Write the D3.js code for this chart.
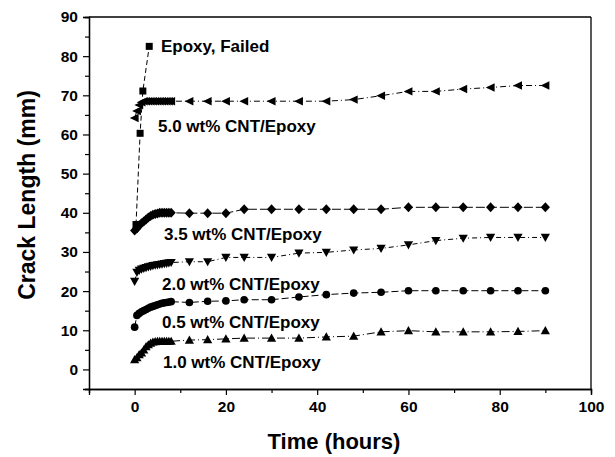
<!DOCTYPE html>
<html><head><meta charset="utf-8">
<script src="https://cdn.jsdelivr.net/npm/d3@7"></script>
<style>
html,body{margin:0;padding:0;background:#fff;}
svg{display:block;font-family:"Liberation Sans",Arial,sans-serif;}
</style></head>
<body>
<svg id="chart" width="615" height="457"></svg>
<script>
// ---- data ----
const timeHours = [0,0.5,1,1.5,2,2.5,3,3.5,4,4.5,5,5.5,6,6.5,7,7.5,8,
                   12,16,20,24,30,36,42,48,54,60,66,72,78,84,90];
const cnt50 = [64.2,66,67.5,68.2,68.5,68.5,68.5,68.5,68.5,68.5,68.5,68.5,68.5,68.5,68.5,68.5,68.5,
               68.5,68.5,68.5,68.5,68.5,68.5,68.5,68.9,69.9,71,71,71.6,72,72.5,72.5];
const cnt35 = [35.5,36,36.8,37.3,37.8,38.3,38.8,39.2,39.5,39.7,39.8,40,40,40,40,40,40,
               39.9,39.9,39.9,40.9,40.9,40.9,40.9,40.9,40.9,41.4,41.4,41.4,41.4,41.4,41.4];
const cnt20 = [22.5,24.8,25.3,25.6,25.8,26,26.2,26.3,26.5,26.6,26.7,26.8,26.9,27,27.1,27.2,27.3,
               27.5,27.5,28.6,28.6,28.6,29.7,29.9,30.5,30.9,31.8,32.9,33.5,33.7,33.7,33.7];
const cnt05 = [10.8,13.8,14.3,14.7,15,15.3,15.6,15.9,16.1,16.3,16.5,16.7,16.9,17,17.1,17.2,17.3,
               17.1,17.4,17.5,17.8,17.8,18.5,19.1,19.5,19.7,20.1,20.1,20.1,20.1,20.1,20.1];
const cnt10 = [2.5,3,3.8,4.2,5,5.8,6.3,6.7,7,7.1,7.2,7.2,7.2,7.2,7.2,7.2,7.2,
               7.5,7.6,7.8,8,8,8,8.3,8.5,9.6,9.9,9.6,9.6,9.6,9.7,9.9];
const epoxyTime = [0.3,1.2,1.8,3.2];
const epoxyVals = [37,60.3,71.1,82.5];
const seriesNames = ["Epoxy, Failed","5.0 wt% CNT/Epoxy","3.5 wt% CNT/Epoxy","2.0 wt% CNT/Epoxy","0.5 wt% CNT/Epoxy","1.0 wt% CNT/Epoxy"];
const xTickLabels = [0,20,40,60,80,100];
const yTickLabels = [0,10,20,30,40,50,60,70,80,90];
const xTitle = "Time (hours)";
const yTitle = "Crack Length (mm)";

// ---- layout ----
const L = 89, R = 591, T = 17, B = 389;
const svg = d3.select("#chart");
const x = d3.scaleLinear().domain([-10,100]).range([L,R]);
const y = d3.scaleLinear().domain([-5,90]).range([B,T]);

const shapes = {
  square: "M-3.5,-3.5H3.5V3.5H-3.5Z",
  left: "M-4.8,0L4,-4.2L4,4.2Z",
  diamond: "M0,-5L4.6,0L0,5L-4.6,0Z",
  down: "M-4.6,-3.6L4.6,-3.6L0,4.6Z",
  up: "M-4.6,3.6L4.6,3.6L0,-4.6Z",
  circle: d3.symbol(d3.symbolCircle, 46)()
};

const series = [
  {name: seriesNames[0], t: epoxyTime, v: epoxyVals, shape: "square", dash: "5,3"},
  {name: seriesNames[1], t: timeHours, v: cnt50, shape: "left", dash: "6,3,1,3"},
  {name: seriesNames[2], t: timeHours, v: cnt35, shape: "diamond", dash: "9,3"},
  {name: seriesNames[3], t: timeHours, v: cnt20, shape: "down", dash: "5,3,1,3"},
  {name: seriesNames[4], t: timeHours, v: cnt05, shape: "circle", dash: "7,3"},
  {name: seriesNames[5], t: timeHours, v: cnt10, shape: "up", dash: "8,3,1,3"}
];

// frame (top and right)
svg.append("line").attr("x1",L).attr("x2",R).attr("y1",T).attr("y2",T).attr("stroke","#000").attr("stroke-width",1.3);
svg.append("line").attr("x1",R).attr("x2",R).attr("y1",T).attr("y2",B).attr("stroke","#000").attr("stroke-width",1.3);

// axes
svg.append("g").attr("transform",`translate(0,${B})`)
  .call(d3.axisBottom(x).tickValues(xTickLabels).tickSize(6).tickPadding(6).tickFormat(d3.format("d")));
svg.append("g").attr("transform",`translate(0,${B})`)
  .call(d3.axisBottom(x).tickValues(d3.range(-10,101,10).filter(d=>d%20!==0)).tickSize(4).tickFormat(""));
svg.append("g").attr("transform",`translate(${L},0)`)
  .call(d3.axisLeft(y).tickValues(yTickLabels).tickSize(6).tickPadding(5).tickFormat(d3.format("d")));
svg.append("g").attr("transform",`translate(${L},0)`)
  .call(d3.axisLeft(y).tickValues(d3.range(-5,90,10)).tickSize(4).tickFormat(""));
svg.selectAll(".domain").attr("stroke","#000").attr("stroke-width",1.3);
svg.selectAll(".tick line").attr("stroke","#000").attr("stroke-width",1.2);
svg.selectAll(".tick text").attr("fill","#000").attr("font-size",15.5).attr("font-weight","bold")
   .attr("font-family","'Liberation Sans',Arial,sans-serif");

// titles
svg.append("text").attr("x",334).attr("y",449).attr("text-anchor","middle")
  .attr("font-size",22).attr("font-weight","bold").text(xTitle);
svg.append("text").attr("transform","translate(35,195) rotate(-90)").attr("text-anchor","middle")
  .attr("font-size",23).attr("font-weight","bold").text(yTitle);

// lines and markers
const line = d3.line().x(d=>x(d[0])).y(d=>y(d[1]));
series.forEach(s => {
  const pts = s.t.map((t,i)=>[t,s.v[i]]);
  svg.append("path").attr("d",line(pts)).attr("fill","none").attr("stroke","#000")
    .attr("stroke-width",1).attr("stroke-dasharray",s.dash);
  svg.append("g").selectAll("path").data(pts).join("path")
    .attr("d",shapes[s.shape]).attr("fill","#000")
    .attr("transform",d=>`translate(${x(d[0])},${y(d[1])})`);
});

// series labels
const labelPos = [[161,52],[158,132],[164,240],[162,290],[162,328],[163,368]];
series.forEach((s,i)=>{
  svg.append("text").attr("x",labelPos[i][0]).attr("y",labelPos[i][1])
    .attr("font-size",17).attr("font-weight","bold")
    .attr("fill","#000").text(s.name);
});
</script>
</body></html>
